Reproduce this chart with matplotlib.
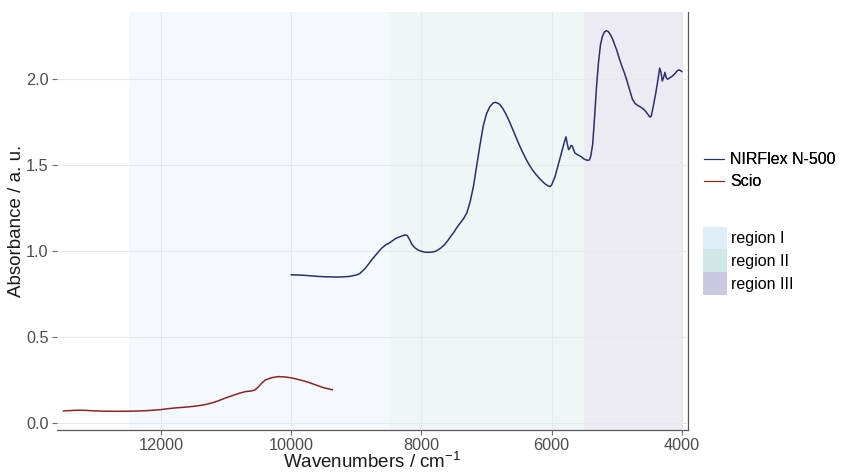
import matplotlib
matplotlib.use("Agg")
import matplotlib.pyplot as plt
from matplotlib.lines import Line2D
from matplotlib.patches import Patch

plt.rcParams['font.family'] = ['Liberation Sans', 'DejaVu Sans']
plt.rcParams['mathtext.fontset'] = 'custom'
plt.rcParams['mathtext.rm'] = 'Liberation Sans'
plt.rcParams['mathtext.it'] = 'Liberation Sans:italic'
plt.rcParams['mathtext.bf'] = 'Liberation Sans:bold'

# NIRFlex N-500 spectrum (wavenumber / cm-1, absorbance)
nirflex_wn = [10000, 9900, 9800, 9700, 9600, 9500, 9400, 9300, 9200, 9100, 9000, 8950, 8900, 8850,
              8800, 8750, 8700, 8650, 8600, 8550, 8500, 8450, 8400, 8350, 8300, 8250, 8220, 8180,
              8150, 8100, 8050, 8000, 7950, 7900, 7850, 7800, 7750, 7700, 7650, 7600, 7550, 7500,
              7450, 7400, 7350, 7300, 7250, 7200, 7150, 7100, 7050, 7000, 6950, 6900, 6860, 6800,
              6750, 6700, 6650, 6600, 6550, 6500, 6450, 6400, 6350, 6300, 6250, 6200, 6150, 6100,
              6050, 6020, 6000, 5950, 5900, 5850, 5800, 5780, 5760, 5740, 5720, 5700, 5680, 5660,
              5640, 5600, 5550, 5500, 5450, 5420, 5400, 5370, 5340, 5310, 5280, 5250, 5220, 5190,
              5160, 5130, 5100, 5070, 5040, 5000, 4960, 4920, 4880, 4850, 4800, 4760, 4720, 4680,
              4640, 4600, 4560, 4520, 4490, 4470, 4440, 4400, 4370, 4340, 4320, 4300, 4280, 4260,
              4240, 4220, 4180, 4140, 4100, 4070, 4040, 4000]
nirflex_abs = [0.861, 0.860, 0.858, 0.855, 0.852, 0.850, 0.849, 0.848, 0.849, 0.852, 0.860, 0.868,
               0.885, 0.905, 0.930, 0.955, 0.978, 1.000, 1.020, 1.035, 1.045, 1.058, 1.072, 1.080,
               1.087, 1.094, 1.090, 1.065, 1.040, 1.018, 1.005, 0.998, 0.993, 0.992, 0.993, 0.996,
               1.005, 1.018, 1.035, 1.058, 1.085, 1.110, 1.140, 1.165, 1.190, 1.225, 1.290, 1.380,
               1.500, 1.620, 1.730, 1.800, 1.840, 1.862, 1.866, 1.855, 1.830, 1.795, 1.755, 1.710,
               1.665, 1.620, 1.578, 1.540, 1.505, 1.475, 1.450, 1.428, 1.408, 1.390, 1.378, 1.376,
               1.385, 1.430, 1.500, 1.570, 1.640, 1.665, 1.625, 1.590, 1.600, 1.615, 1.610, 1.585,
               1.570, 1.560, 1.550, 1.535, 1.528, 1.530, 1.550, 1.620, 1.780, 1.960, 2.100, 2.200,
               2.250, 2.275, 2.283, 2.278, 2.262, 2.240, 2.210, 2.170, 2.120, 2.075, 2.035, 2.000,
               1.935, 1.885, 1.860, 1.848, 1.840, 1.830, 1.815, 1.795, 1.780, 1.785, 1.840, 1.920,
               1.990, 2.065, 2.040, 1.990, 2.010, 2.040, 2.010, 2.000, 2.010, 2.020, 2.035, 2.050,
               2.055, 2.045]

# Scio spectrum
scio_wn = [13500, 13400, 13300, 13200, 13100, 13000, 12900, 12800, 12600, 12400, 12200, 12000,
           11900, 11800, 11700, 11600, 11500, 11400, 11300, 11200, 11100, 11000, 10900, 10800,
           10700, 10620, 10560, 10500, 10450, 10400, 10300, 10200, 10100, 10000, 9900, 9800,
           9700, 9600, 9500, 9400, 9370]
scio_abs = [0.068, 0.070, 0.072, 0.072, 0.070, 0.068, 0.067, 0.066, 0.066, 0.067, 0.070, 0.076,
            0.081, 0.085, 0.088, 0.091, 0.095, 0.100, 0.107, 0.117, 0.130, 0.145, 0.158, 0.171,
            0.181, 0.184, 0.190, 0.210, 0.232, 0.248, 0.262, 0.268, 0.266, 0.261, 0.252, 0.242,
            0.230, 0.216, 0.203, 0.194, 0.192]

# Spectral regions (start, end in cm-1)
region_names = ["region I", "region II", "region III"]
region_start = [12500, 8500, 5500]
region_end = [8500, 5500, 4000]
region_colors = ["#ddeef8", "#cfe8e6", "#cbc8e2"]

series_names = ["NIRFlex N-500", "Scio"]
series_colors = ["#2d2f6b", "#8b2525"]

x_ticks = [12000, 10000, 8000, 6000, 4000]
y_ticks = [0.0, 0.5, 1.0, 1.5, 2.0]

fig = plt.figure(figsize=(8.55, 4.74), dpi=100)
ax = fig.add_axes([57 / 855, 1 - 430 / 474, (688 - 57) / 855, (430 - 12) / 474])

for start, end, col in zip(region_start, region_end, region_colors):
    ax.axvspan(start, end, color=col, alpha=0.35, lw=0, zorder=0)

ax.plot(nirflex_wn, nirflex_abs, color=series_colors[0], lw=1.1, zorder=3)
ax.plot(scio_wn, scio_abs, color=series_colors[1], lw=1.1, zorder=3)

ax.set_xlim(13600, 3905)
ax.set_ylim(-0.043, 2.392)
ax.set_xticks(x_ticks)
ax.set_xticklabels([str(t) for t in x_ticks])
ax.set_yticks(y_ticks)
ax.set_yticklabels([f"{t:.1f}" for t in y_ticks])

ax.grid(True, color="#e6e8ec", lw=0.8, zorder=1)
ax.set_axisbelow(False)
for gl in ax.get_xgridlines() + ax.get_ygridlines():
    gl.set_zorder(1)

for side in ["top", "left"]:
    ax.spines[side].set_visible(False)
for side in ["bottom", "right"]:
    ax.spines[side].set_color("#5a5a5a")
    ax.spines[side].set_linewidth(0.9)

ax.tick_params(axis="both", colors="#6b6b6b", labelcolor="#4d4d4d", labelsize=11.7,
               length=3.5, width=0.8, pad=2.5)

ax.set_xlabel("Wavenumbers / cm$^{-1}$", fontsize=13.5, color="#1a1a1a", labelpad=-1)
ax.set_ylabel("Absorbance / a. u.", fontsize=13.5, color="#1a1a1a", labelpad=1)

line_handles = [Line2D([], [], color=c, lw=0.8) for c in series_colors]
leg1 = fig.legend(line_handles, series_names, loc="upper left",
                  bbox_to_anchor=(698 / 855, 1 - 146 / 474), frameon=False,
                  fontsize=11.5, handlelength=1.25, handletextpad=0.35,
                  labelspacing=0.42, borderaxespad=0)

patch_handles = [Patch(facecolor=c, edgecolor="none") for c in region_colors]
leg2 = fig.legend(patch_handles, region_names, loc="upper left",
                  bbox_to_anchor=(697 / 855, 1 - 220.5 / 474), frameon=False,
                  fontsize=11.5, handlelength=1.45, handleheight=1.8,
                  handletextpad=0.3, labelspacing=0.0, borderaxespad=0)
fig.add_artist(leg1)

fig.savefig("out.png", dpi=100, facecolor="white")
